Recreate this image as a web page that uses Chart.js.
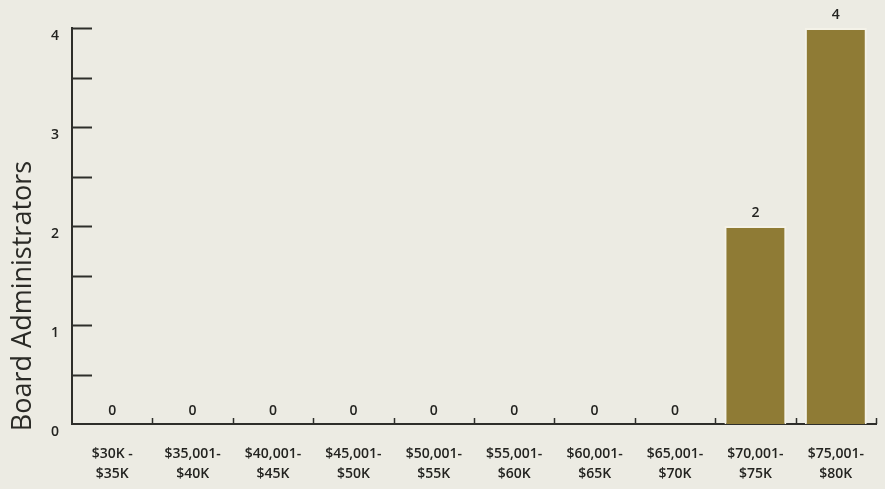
<!DOCTYPE html>
<html>
<head>
<meta charset="utf-8">
<script src="https://cdn.jsdelivr.net/npm/chart.js@4"></script>
<style>
  html, body { margin: 0; padding: 0; background: #ecebe3; }
  #wrap { width: 885px; height: 489px; position: relative; }
</style>
</head>
<body>
<div id="wrap"><canvas id="salaryChart" width="885" height="489"></canvas></div>
<script>
// chart data
const salaryRanges = [
    ['$30K -', '$35K'], ['$35,001-', '$40K'], ['$40,001-', '$45K'], ['$45,001-', '$50K'],
    ['$50,001-', '$55K'], ['$55,001-', '$60K'], ['$60,001-', '$65K'], ['$65,001-', '$70K'],
    ['$70,001-', '$75K'], ['$75,001-', '$80K']
];
const adminCounts = [0, 0, 0, 0, 0, 0, 0, 0, 2, 4];
const yTicks = [0, 1, 2, 3, 4];
const yTitle = 'Board Administrators';

const axisColor = '#2e2e2a';
const textColor = '#232320';
const fontFamily = "'Open Sans', 'Liberation Sans', sans-serif";

// draws inward tick marks on both axes, the value labels and the y title
const axisMarks = {
    id: 'axisMarks',
    afterDatasetsDraw(chart) {
        const ctx = chart.ctx;
        const x = chart.scales.x;
        const y = chart.scales.y;
        const area = chart.chartArea;
        ctx.save();
        ctx.strokeStyle = axisColor;
        ctx.lineWidth = 2;
        // y ticks every 0.5, pointing into the plot
        for (let v = 0.5; v <= 4; v += 0.5) {
            const py = Math.round(y.getPixelForValue(v)) + 0.5;
            ctx.beginPath();
            ctx.moveTo(area.left, py);
            ctx.lineTo(area.left + 20, py);
            ctx.stroke();
        }
        // x ticks between categories, pointing up
        ctx.lineWidth = 1.5;
        const step = x.getPixelForValue(1) - x.getPixelForValue(0);
        for (let i = 0; i < salaryRanges.length; i++) {
            const px = Math.round(x.getPixelForValue(i) + step / 2) + 0.5;
            ctx.beginPath();
            ctx.moveTo(px, area.bottom);
            ctx.lineTo(px, area.bottom - 6);
            ctx.stroke();
        }
        // value labels
        ctx.fillStyle = textColor;
        ctx.font = "600 14px " + fontFamily;
        ctx.textAlign = 'center';
        ctx.textBaseline = 'bottom';
        const meta = chart.getDatasetMeta(0);
        meta.data.forEach((bar, i) => {
            ctx.fillText(String(adminCounts[i]), bar.x, bar.y - 6);
        });
        // y title, sits lower than the axis centre in the original
        ctx.translate(23, 296);
        ctx.rotate(-Math.PI / 2);
        ctx.textBaseline = 'middle';
        ctx.fillStyle = '#2a2a26';
        ctx.font = "27px " + fontFamily;
        ctx.fillText(yTitle, 0, 0);
        ctx.restore();
    }
};

new Chart(document.getElementById('salaryChart'), {
    type: 'bar',
    data: {
        labels: salaryRanges,
        datasets: [{
            label: yTitle,
            data: adminCounts,
            backgroundColor: '#8f7b35',
            borderColor: '#f4f2e8',
            borderWidth: 2,
            borderSkipped: 'start',
            barPercentage: 0.77,
            categoryPercentage: 1
        }]
    },
    options: {
        responsive: false,
        animation: false,
        events: [],
        layout: { padding: { top: 28, right: 9, left: 0, bottom: 0 } },
        plugins: {
            legend: { display: false },
            tooltip: { enabled: false }
        },
        scales: {
            x: {
                grid: { display: false, drawTicks: false },
                border: { display: true, color: axisColor, width: 2 },
                ticks: {
                    color: textColor,
                    font: { family: fontFamily, size: 14, weight: '600', lineHeight: 1.45 },
                    padding: 20,
                    maxRotation: 0,
                    autoSkip: false
                },
                afterFit(scale) { scale.height = 65; }
            },
            y: {
                min: 0,
                max: 4,
                afterBuildTicks(scale) { scale.ticks = yTicks.map(v => ({ value: v })); },
                grid: { display: false, drawTicks: false },
                border: { display: true, color: axisColor, width: 2 },
                ticks: {
                    color: textColor,
                    font: { family: fontFamily, size: 14, weight: '600' },
                    padding: 13,
                    labelOffset: 8
                },
                afterFit(scale) { scale.width = 72; }
            }
        }
    },
    plugins: [axisMarks]
});
</script>
</body>
</html>
